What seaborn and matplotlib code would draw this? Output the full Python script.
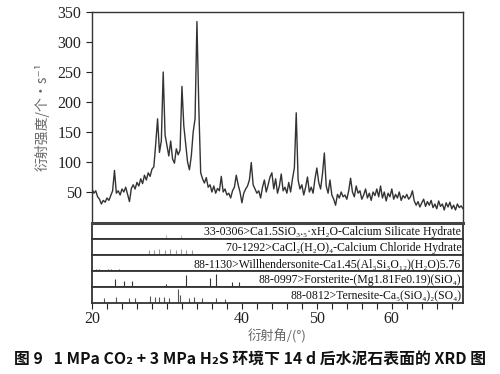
import numpy as np
import pandas as pd
import matplotlib
matplotlib.use("Agg")
import matplotlib.pyplot as plt
import seaborn as sns

# ---- data ----
# measured pattern, sampled every 0.25 deg from 20.0 to 69.5
two_theta_start, two_theta_step = 20.0, 0.25
counts_20_25 = [55, 48, 52, 42, 38, 30, 36, 33, 40, 36, 44, 52, 86, 48, 52, 45, 55, 50, 58, 46]
counts_25_30 = [34, 56, 62, 55, 66, 60, 72, 64, 78, 70, 82, 76, 88, 92, 130, 172, 116, 135, 250, 145]
counts_30_35 = [128, 110, 135, 105, 98, 122, 112, 120, 226, 160, 130, 100, 87, 110, 150, 172, 334, 192, 82, 72]
counts_35_40 = [65, 74, 58, 62, 50, 60, 48, 56, 52, 76, 50, 55, 45, 48, 40, 52, 58, 78, 62, 50]
counts_40_45 = [32, 48, 55, 60, 70, 99, 62, 55, 48, 52, 40, 58, 70, 50, 62, 75, 82, 55, 72, 48]
counts_45_50 = [60, 80, 52, 58, 48, 66, 50, 72, 90, 182, 70, 55, 62, 45, 58, 75, 50, 58, 48, 72]
counts_50_55 = [90, 66, 55, 80, 115, 60, 48, 70, 45, 38, 28, 46, 40, 50, 42, 45, 38, 52, 73, 50]
counts_55_60 = [42, 60, 48, 52, 38, 45, 55, 40, 48, 36, 50, 44, 55, 42, 60, 40, 50, 35, 48, 42]
counts_60_65 = [55, 38, 46, 40, 50, 36, 44, 40, 46, 38, 42, 52, 35, 28, 34, 25, 32, 38, 26, 34]
counts_65_70 = [28, 36, 24, 30, 22, 35, 26, 30, 20, 32, 25, 33, 22, 28, 20, 30, 24, 27, 22]

# reference cards (stick positions and relative heights)
card_labels = [
    "33-0306>Ca1.5SiO₃.₅·xH₂O-Calcium Silicate Hydrate",
    "70-1292>CaCl₂(H₂O)₄-Calcium Chloride Hydrate",
    "88-1130>Willhendersonite-Ca1.45(Al₃Si₃O₁₂)(H₂O)5.76",
    "88-0997>Forsterite-(Mg1.81Fe0.19)(SiO₄)",
    "88-0812>Ternesite-Ca₅(SiO₄)₂(SO₄)",
]
csh_pos = [29.9, 31.9]
csh_int = [0.25, 0.25]
cacl_pos = [27.6, 28.3, 29.0, 29.7, 30.4, 31.2, 31.9, 32.6, 33.3]
cacl_int = [0.3, 0.3, 0.35, 0.3, 0.4, 0.3, 0.35, 0.3, 0.3]
will_pos = [20.6, 21.0, 22.2, 22.6, 23.6, 36.5, 38.0]
will_int = [0.15, 0.12, 0.15, 0.12, 0.12, 0.1, 0.1]
forst_pos = [23.1, 24.3, 25.4, 29.9, 32.5, 35.8, 36.6, 38.7, 39.6]
forst_int = [0.5, 0.35, 0.35, 0.2, 0.75, 0.55, 0.8, 0.3, 0.3]
tern_pos = [21.6, 23.2, 24.9, 25.8, 27.8, 28.4, 28.9, 29.6, 30.3, 31.5, 31.7, 32.9, 33.6, 34.7, 36.5, 37.8]
tern_int = [0.3, 0.35, 0.3, 0.3, 0.45, 0.4, 0.4, 0.35, 0.3, 0.85, 0.5, 0.3, 0.35, 0.3, 0.3, 0.25]

x_ticks = [20, 22, 24, 26, 28, 30, 32, 34, 36, 38, 40, 42, 44, 46, 48, 50, 52, 54, 56, 58, 60, 62, 64, 66, 68]
x_tick_labels = ["20", "", "", "", "", "", "", "", "", "", "40", "", "", "", "", "50", "", "", "", "", "60", "", "", "", ""]
y_ticks = [50, 100, 150, 200, 250, 300, 350]

counts = (counts_20_25 + counts_25_30 + counts_30_35 + counts_35_40 + counts_40_45
          + counts_45_50 + counts_50_55 + counts_55_60 + counts_60_65 + counts_65_70)
two_theta = two_theta_start + two_theta_step * np.arange(len(counts))
df = pd.DataFrame({"two_theta": two_theta, "counts": counts})

sns.set_theme(style="ticks")
plt.rcParams["font.family"] = ["Liberation Serif", "DejaVu Serif"]
cjk = ["Noto Sans CJK SC", "DejaVu Sans"]

W, H = 500, 374
fig = plt.figure(figsize=(5.0, 3.74), dpi=100)

def box(top, bottom, left=92, right=463):
    return [left / W, 1 - bottom / H, (right - left) / W, (bottom - top) / H]

xlim = (20, 69.5)

# main pattern
ax = fig.add_axes(box(12, 222))
sns.lineplot(data=df, x="two_theta", y="counts", ax=ax, color="#333333", linewidth=1.0)
ax.set_xlim(*xlim)
ax.set_ylim(0, 350)
ax.set_yticks(y_ticks)
ax.tick_params(axis="y", labelsize=11.5, length=4, width=0.8, colors="#222222")
ax.set_xticks([])
ax.set_xlabel("")
ax.set_ylabel("衍射强度/个·s⁻¹", family=cjk, fontsize=10, color="#666666", labelpad=6)
for s in ["left", "top", "right"]:
    ax.spines[s].set_color("#333333")
    ax.spines[s].set_linewidth(1.0)
ax.spines["bottom"].set_visible(False)

# reference card strips
cards = [
    (csh_pos, csh_int, "#bbbbbb"),
    (cacl_pos, cacl_int, "#999999"),
    (will_pos, will_int, "#555555"),
    (forst_pos, forst_int, "#333333"),
    (tern_pos, tern_int, "#555555"),
]
edges = [223, 239, 255, 271, 287, 303]
for i, (pos, inten, col) in enumerate(cards):
    sa = fig.add_axes(box(edges[i], edges[i + 1]))
    sa.vlines(pos, 0, inten, color=col, linewidth=0.8)
    sa.set_xlim(*xlim)
    sa.set_ylim(0, 1)
    sa.set_yticks([])
    sa.text(0.995, 0.45, card_labels[i], transform=sa.transAxes, ha="right", va="center",
            fontsize=8.5, color="#111111")
    for s in sa.spines.values():
        s.set_color("#333333")
        s.set_linewidth(1.3)
    if i == 0:
        sa.spines["top"].set_linewidth(2.2)
        sa.spines["top"].set_color("#444444")
    if i < len(cards) - 1:
        sa.set_xticks([])
    else:
        sa.set_xticks(x_ticks)
        sa.set_xticklabels(x_tick_labels)
        sa.tick_params(axis="x", labelsize=11.5, length=4, width=0.8, colors="#222222", pad=2)
        sa.set_xlabel("衍射角/(°)", family=cjk, fontsize=9.5, color="#666666", labelpad=1)

fig.text(0.5, 1 - 359 / H, "图 9   1 MPa CO₂ + 3 MPa H₂S 环境下 14 d 后水泥石表面的 XRD 图",
         family=cjk, fontsize=11.4, fontweight="bold", ha="center", va="center", color="#111111")

fig.savefig("out.png", dpi=100)
